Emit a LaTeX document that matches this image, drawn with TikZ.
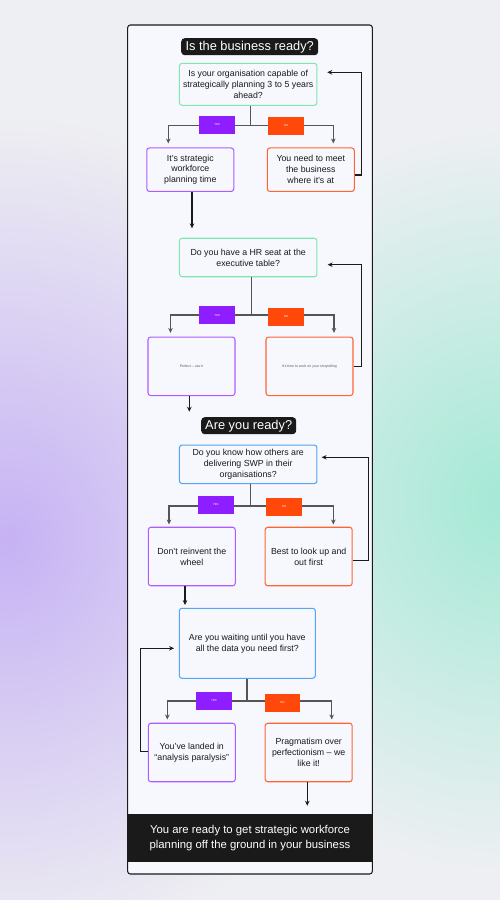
\documentclass[tikz,border=0pt]{standalone}
\usepackage{fontspec}
\setmainfont{Liberation Sans}
\usetikzlibrary{arrows.meta,calc}

\definecolor{bggrey}{HTML}{EEEFF2}
\definecolor{bgpurple}{HTML}{C6B2F4}
\definecolor{bggreen}{HTML}{A4E9D5}
\definecolor{panel}{HTML}{F7F7FE}
\definecolor{ink}{HTML}{1A1A1A}
\definecolor{yescol}{HTML}{8E1EFF}
\definecolor{nocol}{HTML}{FF480A}
\definecolor{qgreen}{HTML}{80E8AC}
\definecolor{qblue}{HTML}{52A6F2}
\definecolor{ansyes}{HTML}{AE5CFF}
\definecolor{ansno}{HTML}{FF6433}
\definecolor{wire}{HTML}{555555}

\tikzset{
  headbox/.style={fill=ink, text=white, rounded corners=2pt, inner sep=0pt,
    minimum height=0.34cm, font=\fontsize{7.3}{8}\selectfont},
  question/.style={draw=#1, fill=panel, line width=0.6pt, rounded corners=1.5pt,
    align=center, inner sep=0pt, minimum width=2.75cm, text=ink,
    font=\fontsize{5}{6.2}\selectfont},
  answer/.style={draw=#1, fill=panel, line width=0.6pt, rounded corners=1.5pt,
    align=center, inner sep=0pt, minimum width=1.74cm, minimum height=1.17cm,
    text=ink, font=\fontsize{5}{6.2}\selectfont},
  tag/.style={fill=#1, text=white, inner sep=0pt, minimum width=0.72cm,
    minimum height=0.36cm, font=\fontsize{1.6}{2}\selectfont},
  wire/.style={draw=wire, line width=0.7pt},
  back/.style={draw=ink, line width=0.6pt, ->},
}

\begin{document}
\begin{tikzpicture}[x=0.02cm, y=-0.02cm, >={Stealth[length=2.8pt,width=2.6pt]}]
    % background
    \begin{scope}
        \clip (0,0) rectangle (500,900);
        \fill[bggrey] (0,0) rectangle (500,900);
        \shade[inner color=bgpurple, outer color=bggrey] (10,540) ellipse (7.5cm and 8.5cm);
        \shade[inner color=bggreen, outer color=bggrey] (505,500) ellipse (7cm and 7.5cm);
    \end{scope}
    \useasboundingbox (0,0) rectangle (500,900);

    % panel
    \draw[ink, fill=panel, line width=0.6pt, rounded corners=1.5pt] (127.7,25) rectangle (372.3,874);
    \node[fill=ink, text=white, inner sep=0pt, minimum width=4.89cm, minimum height=0.97cm,
          align=center, font=\fontsize{6.45}{8.3}\selectfont] (goal) at (250,838.2)
        {You are ready to get strategic workforce\\planning off the ground in your business};

    % is the business ready?
    \node[headbox, minimum width=2.74cm] (head1) at (249.7,46.7) {Is the business ready?};
    \node[question=qgreen, minimum height=0.84cm] (q1) at (248.2,84.3)
        {Is your organisation capable of\\strategically planning 3 to 5 years\\ahead?};
    \node[answer=ansyes, minimum height=0.87cm] (y1) at (190.3,169.7)
        {It’s strategic\\workforce\\planning time};
    \node[answer=ansno, minimum height=0.87cm] (n1) at (310.8,169.7)
        {You need to meet\\the business\\where it’s at};

    \node[question=qgreen, minimum height=0.77cm] (q2) at (248.2,257.5)
        {Do you have a HR seat at the\\executive table?};
    \node[answer=ansyes] (y2) at (191.5,366.3) {\fontsize{2}{2.4}\selectfont\color{black!65}Perfect – use it};
    \node[answer=ansno] (n2) at (309.5,366.3) {\fontsize{2}{2.4}\selectfont\color{black!65}It’s time to work on your storytelling};

    % are you ready?
    \node[headbox, minimum width=1.9cm] (head2) at (248.7,425.7) {Are you ready?};
    \node[question=qblue, minimum height=0.77cm] (q3) at (248.2,464.3)
        {Do you know how others are\\delivering SWP in their\\organisations?};
    \node[answer=ansyes] (y3) at (191.8,556.5) {Don’t reinvent the\\wheel};
    \node[answer=ansno] (n3) at (308.7,556.5) {Best to look up and\\out first};

    \node[question=qblue, minimum height=1.4cm, minimum width=2.72cm] (q4) at (247.3,643.3)
        {Are you waiting until you have\\all the data you need first?};
    \node[answer=ansyes] (y4) at (191.8,752.5) {You’ve landed in\\“analysis paralysis”};
    \node[answer=ansno] (n4) at (308.7,752.5) {Pragmatism over\\perfectionism – we\\like it!};

    % branch points and loose ends
    \coordinate (j1) at (250.7,125.3);
    \coordinate (j2) at (251.7,315);
    \coordinate (j3) at (250.7,506);
    \coordinate (j4) at (247,701);
    \coordinate (ret1) at (327.3,72.3);
    \coordinate (ret2) at (327.7,264.7);
    \coordinate (ret3) at (321.7,457.3);
    \coordinate (ret4) at (174,648.3);
    \coordinate (in2) at (192,228.3);
    \coordinate (in3) at (189.3,411.7);
    \coordinate (in4) at (185,605);
    \coordinate (in5) at (307.3,805.7);

    % yes / no splits
    \draw[wire] (q1.south -| j1) -- (j1);
    \draw[wire, ->] (j1) -| ($(y1.north)+(-22,-4)$);
    \draw[wire, ->] (j1) -| ($(n1.north)+(22.5,-4)$);
    \draw[wire] (q2.south -| j2) -- (j2);
    \draw[wire, ->] (j2) -| ($(y2.north)+(-21,-3.7)$);
    \draw[wire, ->] (j2) -| ($(n2.north)+(24.5,-3.7)$);
    \draw[wire] (q3.south -| j3) -- (j3);
    \draw[wire, ->] (j3) -| ($(y3.north)+(-22.8,-2.3)$);
    \draw[wire, ->] (j3) -| ($(n3.north)+(24.6,-2.3)$);
    \draw[wire] (q4.south -| j4) -- (j4);
    \draw[wire, ->] (j4) -| ($(y4.north)+(-24.5,-3.3)$);
    \draw[wire, ->] (j4) -| ($(n4.north)+(23,-3.3)$);

    % loops back
    \draw[back] ($(n1.east)+(0,5.3)$) -- ++(6.7,0) |- (ret1);
    \draw[back] (n2.east) -- ++(8.3,0) |- (ret2);
    \draw[back] ($(n3.east)+(0,4.2)$) -- ++(15.7,0) |- (ret3);
    \draw[back] ($(y4.west)+(0,-0.8)$) -- ++(-7.6,0) |- (ret4);

    % onwards
    \draw[back] (y1.south -| in2) -- (in2);
    \draw[back] (y2.south -| in3) -- (in3);
    \draw[back] (y3.south -| in4) -- (in4);
    \draw[back] (n4.south -| in5) -- (in5);

    % tags
    \node[tag=yescol] (yes1) at (217.3,124.8) {YES};
    \node[tag=nocol] (no1) at (286,125.8) {NO};
    \node[tag=yescol] (yes2) at (217.3,315.2) {YES};
    \node[tag=nocol] (no2) at (286,316.5) {NO};
    \node[tag=yescol] (yes3) at (215.8,505) {YES};
    \node[tag=nocol] (no3) at (284,506.5) {NO};
    \node[tag=yescol] (yes4) at (214,700.8) {YES};
    \node[tag=nocol] (no4) at (282.5,702.5) {NO};
\end{tikzpicture}
\end{document}
